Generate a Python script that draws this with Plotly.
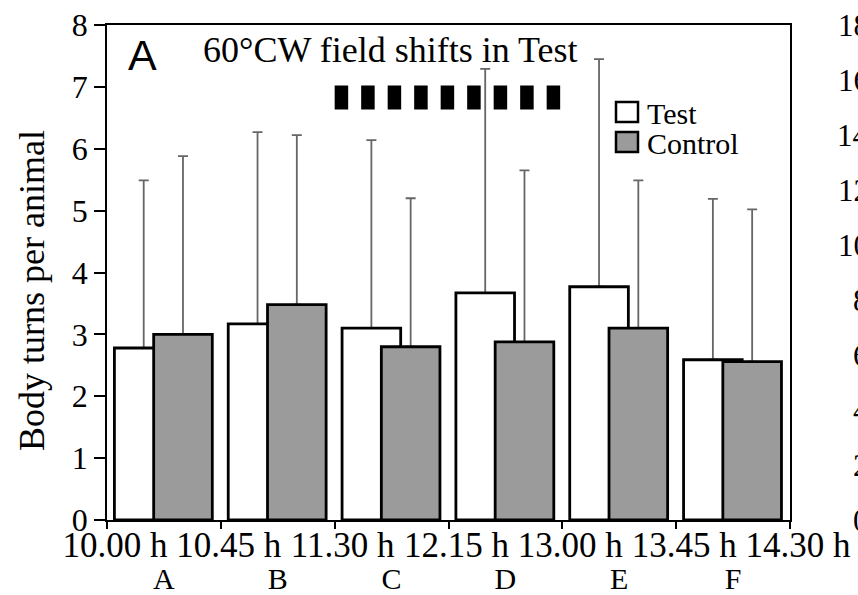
import plotly.graph_objects as go

# ---------------- data ----------------
periods = ["A", "B", "C", "D", "E", "F"]
period_index = [0, 1, 2, 3, 4, 5]
boundary_values = [0, 1, 2, 3, 4, 5, 6]
time_labels = ["10.00 h", "10.45 h", "11.30 h", "12.15 h", "13.00 h", "13.45 h", "14.30 h"]

test_mean = [2.78, 3.17, 3.10, 3.67, 3.77, 2.59]
control_mean = [3.00, 3.48, 2.80, 2.88, 3.10, 2.56]
test_upper = [5.49, 6.27, 6.14, 7.29, 7.45, 5.19]
control_upper = [5.88, 6.22, 5.20, 5.65, 5.49, 5.02]

shift_window = [2, 4]          # 11.30 h -> 13.00 h (periods C and D)
shift_level = 6.83
y_ticks = [0, 1, 2, 3, 4, 5, 6, 7, 8]
panel_b_ticks = [0, 2, 4, 6, 8, 10, 12, 14, 16, 18]

# ---------------- layout geometry ----------------
W, H = 858, 595
L, T, R, B = 107, 25, 68, 75
PW, PH = W - L - R, H - T - B


def px(x):
    return (x - L) / PW


def py(y):
    return (H - B - y) / PH


SERIF = "Liberation Serif"
SANS = "Liberation Sans"
BAR_W = 0.515
TEST_OFF = 0.065
CTRL_OFF = 0.41
GREY = "#9b9b9b"
ERR_COL = "#666666"

test_err = [u - m for u, m in zip(test_upper, test_mean)]
ctrl_err = [u - m for u, m in zip(control_upper, control_mean)]

fig = go.Figure()

# error bars drawn first (invisible bars) so their base cap hides under the bar outline
for means, errs, off in [(test_mean, test_err, TEST_OFF), (control_mean, ctrl_err, CTRL_OFF)]:
    fig.add_trace(go.Bar(
        x=period_index, y=means, offset=off, width=BAR_W,
        marker=dict(color="rgba(0,0,0,0)", line=dict(width=0)),
        error_y=dict(type="data", symmetric=False, array=errs, arrayminus=[0] * len(errs),
                     color=ERR_COL, thickness=1.8, width=5),
        showlegend=False, hoverinfo="skip"))

fig.add_trace(go.Bar(
    x=period_index, y=test_mean, offset=TEST_OFF, width=BAR_W, name="Test",
    marker=dict(color="white", line=dict(color="black", width=2.8)), showlegend=False))
fig.add_trace(go.Bar(
    x=period_index, y=control_mean, offset=CTRL_OFF, width=BAR_W, name="Control",
    marker=dict(color=GREY, line=dict(color="black", width=2.8)), showlegend=False))

# field-shift marks (drawn on the secondary x axis that carries the period letters)
fig.add_trace(go.Scatter(
    x=shift_window, y=[shift_level, shift_level], mode="lines", xaxis="x2",
    line=dict(color="black", width=24, dash="13.5px,13px"),
    showlegend=False, hoverinfo="skip"))

shapes = []
annotations = []

# manual legend
for label, fill, ytop in [("Test", "white", 102), ("Control", GREY, 132)]:
    shapes.append(dict(type="rect", xref="paper", yref="paper",
                       x0=px(616), x1=px(638), y0=py(ytop + 20), y1=py(ytop),
                       fillcolor=fill, line=dict(color="black", width=2.5)))
    annotations.append(dict(text=label, xref="paper", yref="paper", x=px(645), y=py(ytop + 11),
                            xanchor="left", yanchor="middle", showarrow=False,
                            font=dict(family=SERIF, size=30, color="black")))

annotations.append(dict(text="60°CW field shifts in Test", xref="paper", yref="paper",
                        x=px(390), y=py(50), xanchor="center", yanchor="middle", showarrow=False,
                        font=dict(family=SERIF, size=36, color="black")))
annotations.append(dict(text="A", xref="paper", yref="paper", x=px(142), y=py(55),
                        xanchor="center", yanchor="middle", showarrow=False,
                        font=dict(family=SANS, size=43, color="black")))
annotations.append(dict(text="Body turns per animal", xref="paper", yref="paper",
                        x=px(32), y=py(291), xanchor="center", yanchor="middle",
                        textangle=-90, showarrow=False,
                        font=dict(family=SERIF, size=36, color="black")))

# partially visible y-axis labels of the neighbouring panel
for v in panel_b_ticks:
    annotations.append(dict(text=str(v), xref="paper", yref="y2", x=px(871), y=v,
                            xanchor="right", yanchor="middle", showarrow=False,
                            font=dict(family=SERIF, size=31, color="black")))

fig.update_layout(
    width=W, height=H,
    margin=dict(l=L, r=R, t=T, b=B, pad=0, autoexpand=False),
    paper_bgcolor="white", plot_bgcolor="white",
    barmode="overlay",
    showlegend=False,
    xaxis=dict(range=[0, 6], tickmode="array", tickvals=boundary_values, ticktext=time_labels,
               ticks="outside", ticklen=7, tickwidth=1.5, tickcolor="black",
               showline=True, linecolor="black", linewidth=1.5, mirror=True, automargin=False,
               showgrid=False, zeroline=False, ticklabelshift=8, ticklabelstandoff=-14,
               tickfont=dict(family=SERIF, size=35, color="black")),
    xaxis2=dict(overlaying="x", anchor="y", side="bottom", range=[0, 6], tickmode="array",
                tickvals=[i + 0.5 for i in period_index], ticktext=periods,
                ticks="", showline=False, showgrid=False, zeroline=False, automargin=False,
                ticklabelstandoff=38,
                tickfont=dict(family=SERIF, size=30, color="black")),
    yaxis=dict(range=[0, 8], tickmode="array", tickvals=y_ticks,
               ticks="outside", ticklen=11, tickwidth=1.5, tickcolor="black",
               showline=True, linecolor="black", linewidth=1.5, mirror=True, automargin=False,
               showgrid=False, zeroline=False,
               tickfont=dict(family=SERIF, size=32, color="black")),
    yaxis2=dict(overlaying="y", range=[0, 18], visible=False, automargin=False),
    shapes=shapes,
    annotations=annotations,
)

fig.write_html("out.html", config={"displayModeBar": False},
               post_script="document.body.style.margin='0';document.body.style.overflow='hidden';")
